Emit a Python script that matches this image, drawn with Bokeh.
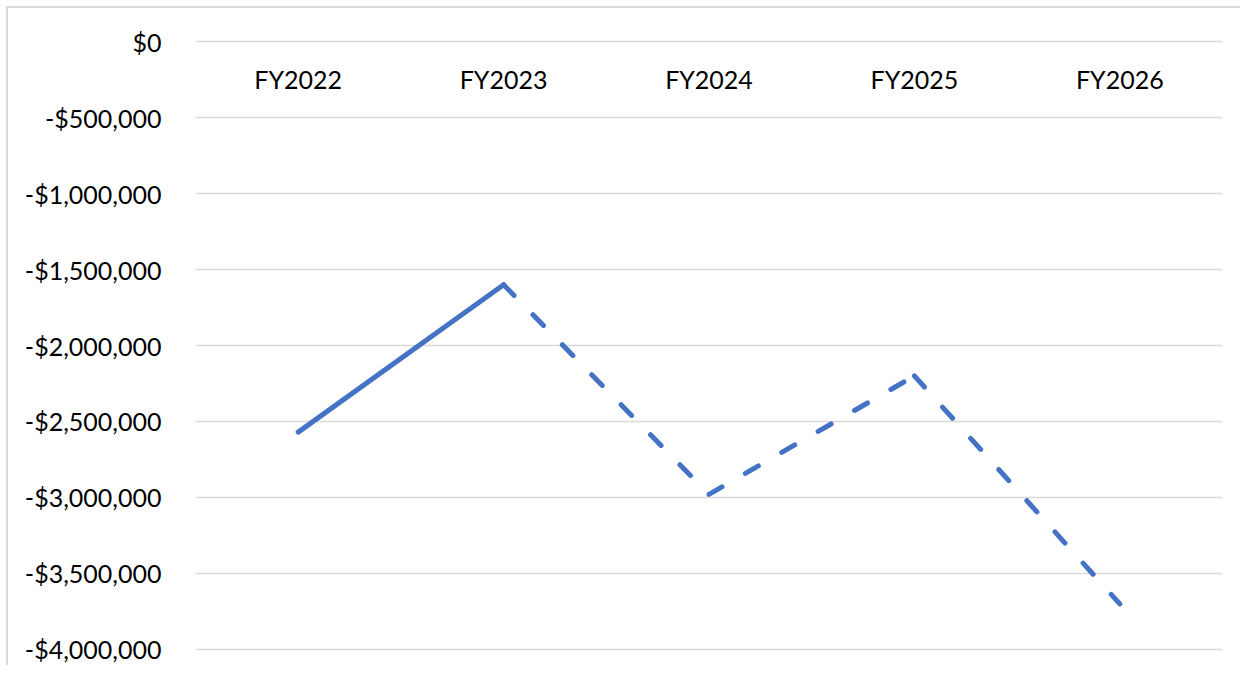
from bokeh.plotting import figure
from bokeh.models import FixedTicker, CustomJSTickFormatter, Range1d, ColumnDataSource
from bokeh.core.properties import value
from bokeh.embed import file_html
from bokeh.resources import INLINE

categories = ["FY2022", "FY2023", "FY2024", "FY2025", "FY2026"]
values = [-2570000, -1600000, -2980000, -2200000, -3700000]
actual_count = 2  # FY2022-FY2023 solid, rest dashed (projection)
y_ticks = [0, -500000, -1000000, -1500000, -2000000, -2500000, -3000000, -3500000, -4000000]
label_y = -245000

FONT = "Lato"
pad = 20000

p = figure(x_range=categories, y_range=Range1d(-4000000 - pad, 0 + pad),
           width=1234, height=659, output_backend="svg", toolbar_location=None,
           x_axis_location=None, min_border_left=187, min_border_right=20,
           min_border_top=30, min_border_bottom=15)
p.styles = {"border-top": "2px solid #D9D9D9", "border-left": "2px solid #D9D9D9",
            "margin-left": "6px", "margin-top": "6px"}
p.outline_line_color = None
p.background_fill_color = "white"
p.border_fill_color = "white"

p.xgrid.grid_line_color = None
p.ygrid.grid_line_color = "#D9D9D9"
p.ygrid.grid_line_width = 1.5

ax = p.yaxis[0]
ax.ticker = FixedTicker(ticks=y_ticks)
ax.formatter = CustomJSTickFormatter(code="""
    const a = Math.abs(tick).toLocaleString('en-US');
    return (tick < 0 ? '-' : '') + '$' + a;
""")
ax.axis_line_color = None
ax.major_tick_line_color = None
ax.minor_tick_line_color = None
ax.major_label_text_font = FONT
ax.major_label_text_font_size = "25px"
ax.major_label_text_color = "#000000"
ax.major_label_standoff = 28

solid = ColumnDataSource(dict(x=categories[:actual_count], y=values[:actual_count]))
p.line("x", "y", source=solid, line_color="#4472C4", line_width=5,
       line_cap="round", line_join="round")

# projected part: each segment dashed on its own (pattern restarts at each point)
seg_xs, seg_ys = [], []
for i in range(actual_count - 1, len(categories) - 1):
    seg_xs.append([categories[i], categories[i + 1]])
    seg_ys.append([values[i], values[i + 1]])
dashed = ColumnDataSource(dict(xs=seg_xs, ys=seg_ys))
p.multi_line("xs", "ys", source=dashed, line_color="#4472C4", line_width=5,
             line_cap="round", line_join="round", line_dash="15 27")

labels = ColumnDataSource(dict(x=categories, y=[label_y] * len(categories), t=categories))
p.text("x", "y", text="t", source=labels, text_font=value(FONT), text_font_size="25px",
       text_color="#000000", text_align="center", text_baseline="middle")

open("out.html", "w").write(file_html(p, INLINE))
